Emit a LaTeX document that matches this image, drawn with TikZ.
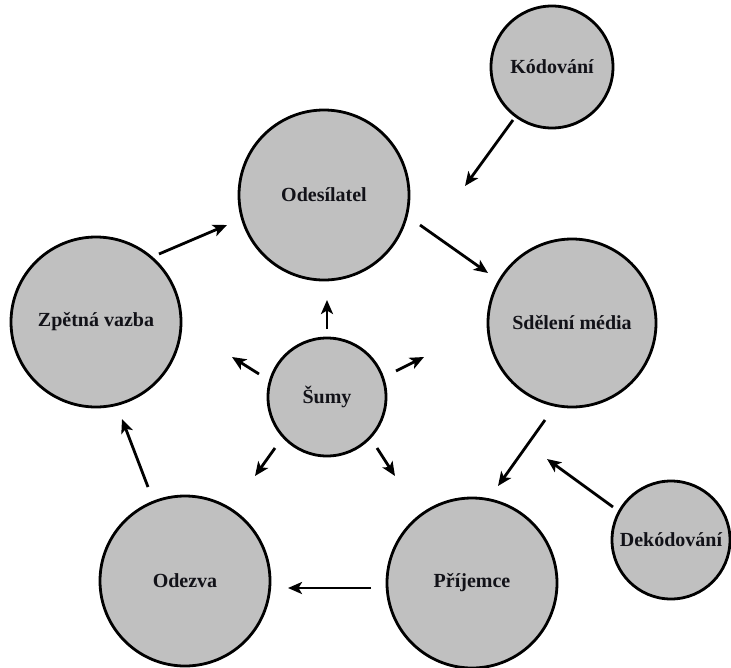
\documentclass[tikz,border=0pt]{standalone}
\usepackage{fontspec}
\setmainfont{Liberation Serif}
\usetikzlibrary{arrows.meta}
\definecolor{circfill}{RGB}{192,192,192}
\definecolor{inkc}{RGB}{18,18,24}
\tikzset{
  bubble/.style={circle, draw=black, line width=2.8pt, fill=circfill, inner sep=0pt,
    text=inkc, font=\rmfamily\bfseries\fontsize{20}{24}\selectfont},
  arr/.style={line width=2.8pt, draw=black, -{Stealth[length=14pt,width=12pt,inset=3.5pt]}}
}
\begin{document}
\begin{tikzpicture}[x=1pt,y=-1pt]
\useasboundingbox (0,0) rectangle (731,667);
\fill[white] (0,0) rectangle (731,667);
% circles
\node[bubble, minimum size=122pt] (kod) at (552,67) {Kódování};
\node[bubble, minimum size=170pt] (odes) at (324,195) {Odesílatel};
\node[bubble, minimum size=168pt] (sdel) at (572,323) {Sdělení média};
\node[bubble, minimum size=170pt] (zpet) at (96,322) {Zpětná vazba};
\node[bubble, minimum size=118pt] (sumy) at (327,397) {Šumy};
\node[bubble, minimum size=118pt] (dek) at (671,540) {Dekódování};
\node[bubble, minimum size=170pt] (prij) at (472,583) {Příjemce};
\node[bubble, minimum size=170pt] (odez) at (185,581) {Odezva};
% arrow end points
\coordinate (kA) at (513,120); \coordinate (kB) at (465,186);
\coordinate (oA) at (420,225); \coordinate (oB) at (488,273);
\coordinate (sA) at (545,420); \coordinate (sB) at (498,486);
\coordinate (dA) at (613,507); \coordinate (dB) at (547,459);
\coordinate (pA) at (371,588); \coordinate (pB) at (288,588);
\coordinate (eA) at (148,487); \coordinate (eB) at (122,419);
\coordinate (zA) at (159,254); \coordinate (zB) at (227,225);
\coordinate (u1) at (327,329); \coordinate (u2) at (327,300);
\coordinate (l1) at (259,374); \coordinate (l2) at (232,357);
\coordinate (r1) at (396,371); \coordinate (r2) at (424,357);
\coordinate (dl1) at (275,448); \coordinate (dl2) at (255,476);
\coordinate (dr1) at (377,448); \coordinate (dr2) at (395,476);
% arrows
\draw[arr] (kA) -- (kB);
\draw[arr] (oA) -- (oB);
\draw[arr] (sA) -- (sB);
\draw[arr] (dA) -- (dB);
\draw[arr] (pA) -- (pB);
\draw[arr] (eA) -- (eB);
\draw[arr] (zA) -- (zB);
\draw[arr] (u1) -- (u2);
\draw[arr] (l1) -- (l2);
\draw[arr] (r1) -- (r2);
\draw[arr] (dl1) -- (dl2);
\draw[arr] (dr1) -- (dr2);
\end{tikzpicture}
\end{document}
